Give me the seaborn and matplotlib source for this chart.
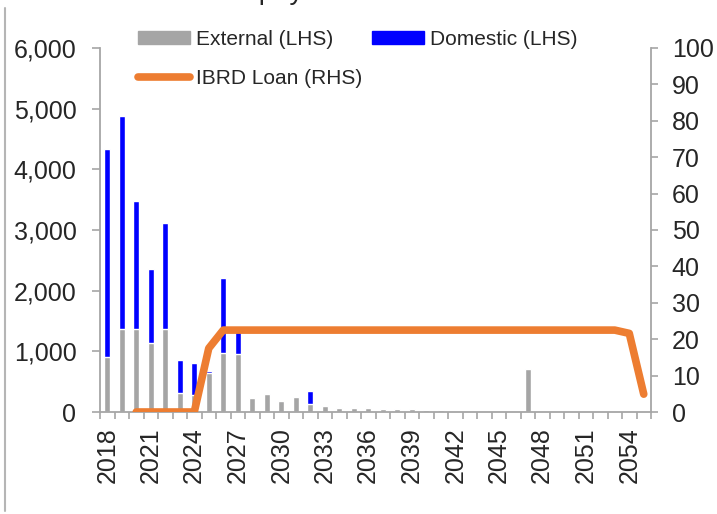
import numpy as np
import pandas as pd
import matplotlib
matplotlib.use("Agg")
import matplotlib.pyplot as plt
import seaborn as sns
from matplotlib.lines import Line2D
from matplotlib.patches import Patch

# data
years = list(range(2018, 2056))
external = [912, 1365, 1365, 1133, 1376, 309, 282, 641, 978, 956,
            224, 290, 180, 242, 132, 94, 72, 61, 61, 55,
            44, 44, 33, 28, 22, 22, 17, 11, 11, 711,
            5, 5, 3, 0, 0, 0, 0, 0]
domestic = [3425, 3513, 2105, 1232, 1734, 553, 525, 33, 1237, 424,
            0, 0, 0, 0, 210, 0, 0, 0, 0, 0,
            0, 0, 0, 0, 0, 0, 0, 0, 0, 0,
            0, 0, 0, 0, 0, 0, 0, 0]
ibrd = [np.nan, np.nan, 0, 0, 0, 0, 0, 17.5] + [22.5] * 28 + [21.6, 4.9]

GREY = "#a5a5a5"
BLUE = "#0000ff"
ORANGE = "#ed7d31"
SPINE = "#a6a6a6"

sns.set_theme(style="white")
plt.rcParams["font.family"] = ["Liberation Sans", "DejaVu Sans"]

df = pd.DataFrame({
    "year": [str(y) for y in years],
    "external": external,
    "domestic": domestic,
    "ibrd": ibrd,
})
df["total"] = df["external"] + df["domestic"]

fig = plt.figure(figsize=(7.17, 5.14), dpi=100)
ax = fig.add_axes([100 / 717, 102 / 514, 551 / 717, 364 / 514])

sns.barplot(data=df, x="year", y="total", color=BLUE, width=0.4,
            saturation=1, ax=ax)
sns.barplot(data=df, x="year", y="external", color=GREY, width=0.4,
            saturation=1, ax=ax)

ax.set_xlim(-0.5, len(years) - 0.5)
ax.set_ylim(0, 6000)
ax.set_yticks(range(0, 6001, 1000))
ax.set_yticklabels([f"{v:,}" for v in range(0, 6001, 1000)])
ax.set_xticks(range(0, len(years), 3))
ax.set_xticklabels([str(y) for y in years[::3]], rotation=90)
ax.set_xticks(np.arange(-0.5, len(years), 1), minor=True)
ax.set_xlabel("")
ax.set_ylabel("")

ax2 = ax.twinx()
sns.lineplot(x=np.arange(len(years)), y=df["ibrd"], color=ORANGE, lw=5.5,
             solid_capstyle="round", ax=ax2)
ax2.set_ylim(0, 100)
ax2.set_yticks(range(0, 101, 10))
ax2.set_ylabel("")
ax2.set_xlim(-0.5, len(years) - 0.5)

for a in (ax, ax2):
    a.spines["top"].set_visible(False)
    for s in a.spines.values():
        s.set_color(SPINE)
        s.set_linewidth(1.3)
ax.spines["right"].set_visible(False)
ax2.spines["left"].set_visible(False)
ax2.spines["bottom"].set_visible(False)

ax.tick_params(axis="y", which="major", left=True, length=6, width=1.2,
               color=SPINE, labelsize=18, pad=11)
ax.tick_params(axis="x", which="major", bottom=True, length=0,
               labelsize=18, pad=11)
ax.tick_params(axis="x", which="minor", bottom=True, length=5, width=1.2,
               color=SPINE)
ax2.tick_params(axis="y", right=True, length=5, width=1.2, color=SPINE,
                labelsize=18, pad=10)

handles = [Patch(color=GREY), Line2D([], [], color=ORANGE, lw=5.5, solid_capstyle="round"),
           Patch(color=BLUE)]
labels = ["External (LHS)", "IBRD Loan (RHS)", "Domestic (LHS)"]
ax2.legend(handles, labels, ncol=2, loc="upper left",
           bbox_to_anchor=(138 / 717, 1 - 30 / 514), bbox_transform=fig.transFigure,
           frameon=False, fontsize=15, handlelength=2.5, handleheight=0.55,
           handletextpad=0.3, columnspacing=0.45, labelspacing=0.95,
           borderpad=0, borderaxespad=0)

# title is cut off at the top of the original image, only descenders show
fig.text(168 / 717, 1 + 1 / 514, "Debt repayments", fontsize=20, va="baseline")
fig.add_artist(Line2D([5 / 717, 5 / 717], [0.005, 0.985], color="#b5b5b5", lw=1.5))

fig.savefig("out.png", dpi=100)
